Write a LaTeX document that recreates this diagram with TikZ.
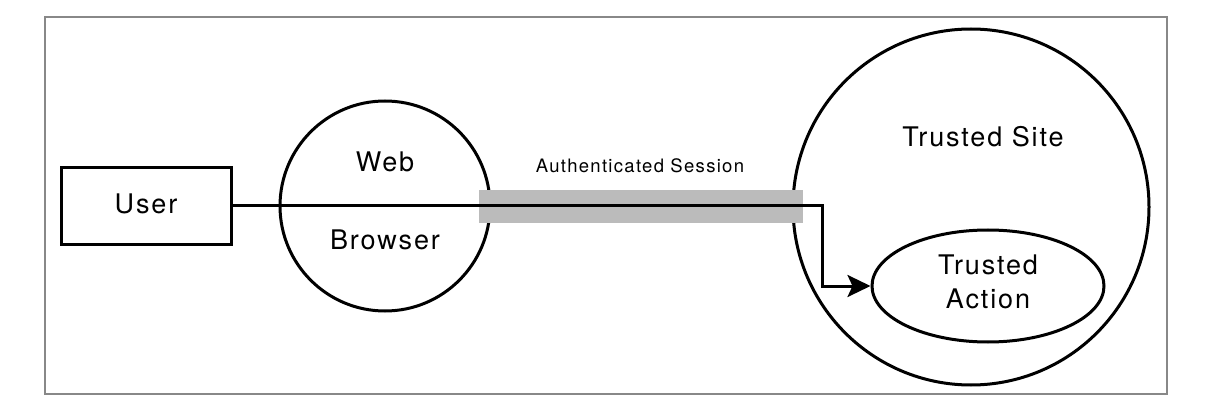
\documentclass[tikz,border=0pt]{standalone}
\usepackage{fontspec}
\setmainfont{TeX Gyre Heros}[LetterSpace=7]
\usetikzlibrary{arrows.meta,shapes.geometric}
\definecolor{barcol}{HTML}{BBBBBB}
\definecolor{framecol}{HTML}{888888}
\tikzset{
  shapeline/.style={draw=black, line width=3pt},
  bigtext/.style={font=\fontsize{27}{32}\selectfont, inner sep=0pt},
  smalltext/.style={font=\fontsize{18.5}{22}\selectfont, inner sep=0pt},
  flow/.style={draw=black, line width=3pt, -{Stealth[length=23pt,width=22pt,inset=5pt]}}
}
\begin{document}
\begin{tikzpicture}[x=1pt,y=-1pt]
\useasboundingbox (0,0) rectangle (1232,406);
\draw[framecol, line width=1.5pt] (45,17) rectangle (1167,394);
% nodes
\node[shapeline, rectangle, minimum width=170pt, minimum height=77pt, inner sep=0pt] (user) at (146,206) {};
\node[bigtext] (usertxt) at (146,204) {User};
\node[shapeline, circle, minimum size=210pt, inner sep=0pt] (browser) at (385,206) {};
\node[bigtext] (webtxt) at (385,162) {Web};
\node[bigtext] (browsertxt) at (385,240) {Browser};
\node[shapeline, circle, minimum size=356pt, inner sep=0pt] (site) at (971,207) {};
\node[bigtext] (sitetxt) at (983,137) {Trusted Site};
\node[shapeline, ellipse, minimum width=232pt, minimum height=112pt, inner sep=0pt] (action) at (988,286) {};
\node[bigtext, align=center] (actiontxt) at (988,282) {Trusted\\[2pt]Action};
% session bar
\node[fill=barcol, minimum width=324pt, minimum height=33pt, inner sep=0pt] (session) at (641,206.5) {};
\node[smalltext] (sessiontxt) at (640,166) {Authenticated Session};
% connector
\coordinate (bend) at (822,206);
\draw[flow] (user.east) -- (bend) |- (action.west);
\end{tikzpicture}
\end{document}
